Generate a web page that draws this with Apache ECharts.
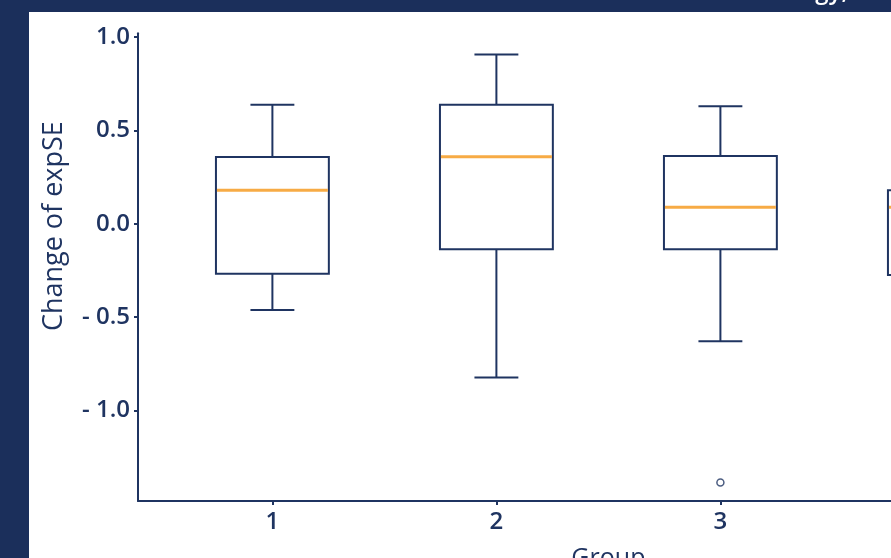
<!DOCTYPE html>
<html>
<head>
<meta charset="utf-8">
<script src="https://cdn.jsdelivr.net/npm/echarts@6/dist/echarts.min.js"></script>
<style>
  html, body { margin: 0; padding: 0; background: #1b2f5b; }
  #chart { width: 891px; height: 558px; }
</style>
</head>
<body>
<div id="chart"></div>
<script>
// Box-plot summary per group: whisker ends, quartiles and median
var groups      = [1, 2, 3, 4];
var whiskerLow  = [-0.462, -0.823, -0.630, -0.600];
var q1          = [-0.268, -0.137, -0.137, -0.275];
var median      = [ 0.179,  0.359,  0.088,  0.088];
var q3          = [ 0.357,  0.637,  0.363,  0.180];
var whiskerHigh = [ 0.637,  0.907,  0.629,  0.450];

// Points beyond the whiskers: [group, value]
var outlierGroup = [3];
var outlierValue = [-1.386];

// Tick marks on the value axis
var yTicks = [-1.0, -0.5, 0.0, 0.5, 1.0];

var NAVY = '#1f3461';
var ORANGE = '#f7ab45';
var FONT = 'Open Sans';

var boxData = groups.map(function (g, i) {
  return [g, whiskerLow[i], q1[i], median[i], q3[i], whiskerHigh[i]];
});
var outlierData = outlierGroup.map(function (g, i) {
  return [g, outlierValue[i]];
});

function renderBox(params, api) {
  var x = api.value(0);
  var unit = api.size([1, 0])[0];
  var halfBox = unit * 0.252;
  var halfCap = unit * 0.098;
  var pLow = api.coord([x, api.value(1)]);
  var pQ1 = api.coord([x, api.value(2)]);
  var pMed = api.coord([x, api.value(3)]);
  var pQ3 = api.coord([x, api.value(4)]);
  var pHigh = api.coord([x, api.value(5)]);
  var cx = pQ1[0];
  var line = { stroke: NAVY, lineWidth: 2, fill: null };
  return {
    type: 'group',
    children: [
      { type: 'line', shape: { x1: cx, y1: pQ3[1], x2: cx, y2: pHigh[1] }, style: line },
      { type: 'line', shape: { x1: cx - halfCap, y1: pHigh[1], x2: cx + halfCap, y2: pHigh[1] }, style: line },
      { type: 'line', shape: { x1: cx, y1: pQ1[1], x2: cx, y2: pLow[1] }, style: line },
      { type: 'line', shape: { x1: cx - halfCap, y1: pLow[1], x2: cx + halfCap, y2: pLow[1] }, style: line },
      { type: 'rect', shape: { x: cx - halfBox, y: pQ3[1], width: halfBox * 2, height: pQ1[1] - pQ3[1] },
        style: { stroke: NAVY, lineWidth: 2, fill: '#ffffff' } },
      { type: 'line', shape: { x1: cx - halfBox + 1, y1: pMed[1], x2: cx + halfBox - 1, y2: pMed[1] },
        style: { stroke: ORANGE, lineWidth: 3 } }
    ]
  };
}

var chart = echarts.init(document.getElementById('chart'), null, { renderer: 'canvas' });

chart.setOption({
  backgroundColor: '#1b2f5b',
  animation: false,
  graphic: [
    { type: 'rect', z: -10, shape: { x: 29, y: 12, width: 862, height: 546 }, style: { fill: '#ffffff' } },
    { type: 'text', x: 848, y: 4, style: { text: 'Strategy,', fill: '#ffffff', font: '600 24px "Open Sans"', align: 'right', verticalAlign: 'bottom' } }
  ],
  grid: {
    left: 138, top: 33.3, width: 940.8, height: 467.7,
    containLabel: false, outerBoundsMode: 'none'
  },
  xAxis: {
    type: 'value',
    min: 0.4,
    max: 4.6,
    name: 'Group',
    nameLocation: 'middle',
    nameGap: 45,
    nameTextStyle: { color: NAVY, fontFamily: FONT, fontSize: 25, fontWeight: 500 },
    axisLine: { show: true, onZero: false, lineStyle: { color: NAVY, width: 2 } },
    axisTick: { show: true, customValues: groups, length: 4, lineStyle: { color: NAVY, width: 2 } },
    axisLabel: { customValues: groups, color: NAVY, fontFamily: FONT, fontSize: 24, fontWeight: 600, margin: 9 },
    splitLine: { show: false }
  },
  yAxis: {
    type: 'value',
    min: -1.485,
    max: 1.02,
    name: 'Change of expSE',
    nameLocation: 'middle',
    nameGap: 70,
    nameTextStyle: { color: NAVY, fontFamily: FONT, fontSize: 27, fontWeight: 500, padding: [0, 0, 0, 82] },
    axisLine: { show: true, lineStyle: { color: NAVY, width: 2 } },
    axisTick: { show: true, customValues: yTicks, length: 4, lineStyle: { color: NAVY, width: 2 } },
    axisLabel: {
      customValues: yTicks,
      color: NAVY, fontFamily: FONT, fontSize: 24, fontWeight: 600, margin: 8,
      formatter: function (v) {
        var s = Math.abs(v).toFixed(1);
        return v < 0 ? '- ' + s : s;
      }
    },
    splitLine: { show: false }
  },
  series: [
    {
      type: 'custom',
      renderItem: renderBox,
      data: boxData,
      encode: { x: 0, y: [1, 2, 3, 4, 5] },
      clip: false
    },
    {
      type: 'scatter',
      data: outlierData,
      symbol: 'circle',
      symbolSize: 7,
      itemStyle: { color: '#ffffff', borderColor: NAVY, borderWidth: 1.5 }
    }
  ]
});
</script>
</body>
</html>
